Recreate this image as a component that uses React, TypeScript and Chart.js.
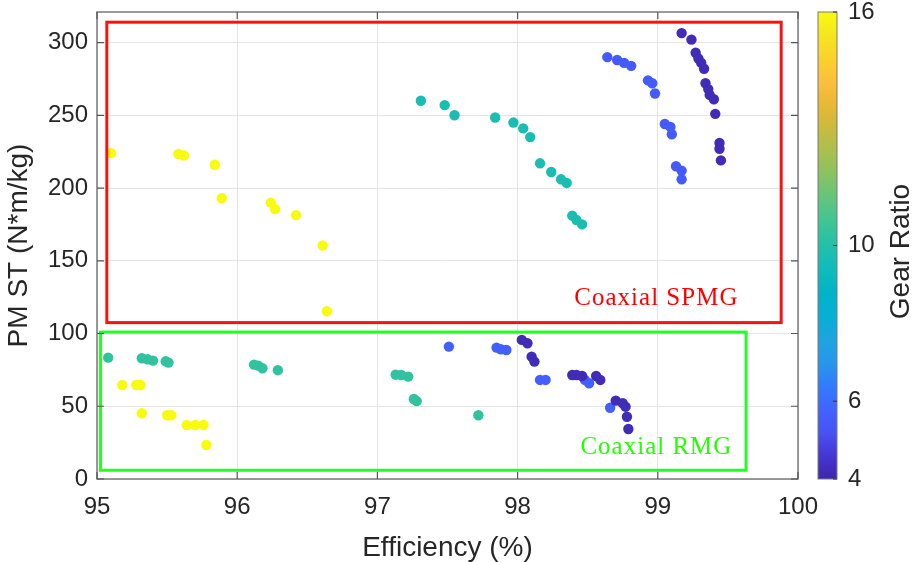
import React, { useEffect, useRef } from 'react';
import { Chart, registerables } from 'chart.js';

Chart.register(...registerables);

// ---- axis settings ----
const xRange = [95, 100];
const yRange = [0, 321];
const yTickValues = [0, 50, 100, 150, 200, 250, 300];
const gearRange = [4, 16];
const gearTickValues = [4, 6, 10, 16];

// ---- Coaxial SPMG data ----
const spmgG16X = [95.10, 95.58, 95.62, 95.84, 95.89, 96.24, 96.27, 96.42, 96.61, 96.64];
const spmgG16Y = [224, 223.5, 222.4, 216, 193, 190, 185.5, 181.4, 160.5, 115.3];
const spmgG16Gear = 16;

const spmgG10X = [97.31, 97.48, 97.55, 97.84, 97.97, 98.04, 98.09, 98.16, 98.24, 98.31, 98.35, 98.39, 98.42, 98.46];
const spmgG10Y = [260, 257, 250, 248.5, 245, 241, 235, 217, 211, 206, 203.5, 181, 178, 175];
const spmgG10Gear = 9.7;

const spmgG6X = [98.64, 98.71, 98.76, 98.81, 98.93, 98.96, 98.98, 99.05, 99.09, 99.10, 99.13, 99.17, 99.17];
const spmgG6Y = [290, 288, 286, 284, 274, 272, 265, 244, 242, 237, 215, 212, 206];
const spmgG6Gear = 5.5;

const spmgG4X = [99.17, 99.24, 99.27, 99.29, 99.31, 99.33, 99.34, 99.36, 99.37, 99.40, 99.41, 99.44, 99.44, 99.45];
const spmgG4Y = [306.5, 302, 293, 289, 286, 282, 272, 268, 264, 261, 251, 231, 227, 219];
const spmgG4Gear = 4.2;

// ---- Coaxial RMG data ----
const rmgG16X = [95.18, 95.28, 95.31, 95.32, 95.50, 95.53, 95.64, 95.70, 95.76, 95.78];
const rmgG16Y = [64.6, 64.6, 64.6, 45.2, 43.8, 43.8, 37.1, 37.1, 37.1, 23.4];
const rmgG16Gear = 16;

const rmgG10X = [95.08, 95.32, 95.36, 95.40, 95.49, 95.51, 96.12, 96.15, 96.18, 96.29, 97.13, 97.17, 97.22, 97.26, 97.28, 97.72];
const rmgG10Y = [83.4, 83, 82.3, 81.4, 80.9, 80, 78.6, 77.9, 76.1, 74.8, 71.7, 71.5, 70.4, 55, 53.5, 43.8];
const rmgG10Gear = 10.3;

const rmgG6X = [97.51, 97.85, 97.88, 97.92, 98.16, 98.20, 98.48, 98.51, 98.66];
const rmgG6Y = [91, 90.3, 89.2, 88.7, 68.1, 68.1, 68.1, 65.8, 49];
const rmgG6Gear = 5.7;

const rmgG4X = [98.03, 98.07, 98.10, 98.12, 98.39, 98.42, 98.46, 98.56, 98.59, 98.70, 98.75, 98.77, 98.78, 98.79];
const rmgG4Y = [95.6, 93.3, 84.1, 80.7, 71.5, 71.5, 70.8, 70.8, 68.1, 53.9, 52.1, 49.7, 42.8, 34.4];
const rmgG4Gear = 4.2;

// ---- annotation boxes (data units: x0, x1, y0, y1) ----
const spmgBox = [95.07, 99.88, 107.5, 314];
const rmgBox = [95.025, 99.63, 6, 101];
const spmgLabel = { text: 'Coaxial SPMG', x: 98.99, y: 124 };
const rmgLabel = { text: 'Coaxial RMG', x: 98.99, y: 22 };

// parula colormap stops
const parulaStops: [number, number, number][] = [
  [0.2422, 0.1504, 0.6603],
  [0.2706, 0.2136, 0.8348],
  [0.2810, 0.3228, 0.9579],
  [0.2586, 0.3888, 0.9962],
  [0.1959, 0.4853, 0.9875],
  [0.1540, 0.5902, 0.9218],
  [0.1163, 0.6444, 0.8715],
  [0.0265, 0.6870, 0.8340],
  [0.0000, 0.7060, 0.7850],
  [0.0617, 0.7334, 0.7311],
  [0.1356, 0.7522, 0.6628],
  [0.2464, 0.7676, 0.5857],
  [0.3833, 0.7732, 0.4886],
  [0.5301, 0.7624, 0.3935],
  [0.6640, 0.7501, 0.3140],
  [0.7856, 0.7318, 0.2451],
  [0.9017, 0.7233, 0.2137],
  [0.9938, 0.7455, 0.2403],
  [0.9851, 0.8179, 0.1735],
  [0.9598, 0.8991, 0.1212],
  [0.9763, 0.9831, 0.0538],
];

function parula(t: number): string {
  const tt = Math.max(0, Math.min(1, t));
  const n = parulaStops.length - 1;
  const f = tt * n;
  const i = Math.min(n - 1, Math.floor(f));
  const r = f - i;
  const a = parulaStops[i];
  const b = parulaStops[i + 1];
  const c = [0, 1, 2].map((k) => Math.round((a[k] + (b[k] - a[k]) * r) * 255));
  return `rgb(${c[0]},${c[1]},${c[2]})`;
}
function gearColor(g: number): string {
  return parula((g - gearRange[0]) / (gearRange[1] - gearRange[0]));
}

const SANS = "'Liberation Sans', Arial, Helvetica, sans-serif";
const SERIF = "'Liberation Serif', 'Times New Roman', serif";
const TEXT = '#262626';
const TICK_SIZE = 24;
const TITLE_SIZE = 28;

function mk(xs: number[], ys: number[], gear: number) {
  return {
    data: xs.map((x, i) => ({ x, y: ys[i] })),
    backgroundColor: gearColor(gear),
    borderWidth: 0,
    pointRadius: 5.2,
    pointHoverRadius: 5.2,
  };
}

const noPad = (s: any) => {
  s.paddingTop = 0;
  s.paddingBottom = 0;
};

const overlayPlugin = {
  id: 'overlay',
  afterDatasetsDraw(chart: any) {
    const { ctx, chartArea: a, scales } = chart;
    const xs = scales.x;
    const ys = scales.y;
    const cb = scales.cb;
    ctx.save();
    // boxes
    const drawBox = (b: number[], color: string) => {
      const x0 = xs.getPixelForValue(b[0]);
      const x1 = xs.getPixelForValue(b[1]);
      const y0 = ys.getPixelForValue(b[2]);
      const y1 = ys.getPixelForValue(b[3]);
      ctx.strokeStyle = color;
      ctx.lineWidth = 3;
      ctx.strokeRect(x0, y1, x1 - x0, y0 - y1);
    };
    drawBox(spmgBox, '#ff1010');
    drawBox(rmgBox, '#22ff22');
    // labels
    ctx.font = `25px ${SERIF}`;
    ctx.textAlign = 'center';
    ctx.textBaseline = 'middle';
    try { (ctx as any).letterSpacing = '1px'; } catch (e) {}
    ctx.fillStyle = '#ff0000';
    ctx.fillText(spmgLabel.text, xs.getPixelForValue(spmgLabel.x), ys.getPixelForValue(spmgLabel.y));
    ctx.fillStyle = '#22ff00';
    ctx.fillText(rmgLabel.text, xs.getPixelForValue(rmgLabel.x), ys.getPixelForValue(rmgLabel.y));
    try { (ctx as any).letterSpacing = '0px'; } catch (e) {}

    // axes box + inward ticks
    ctx.strokeStyle = '#7a7a7a';
    ctx.lineWidth = 1.5;
    ctx.strokeRect(a.left, a.top, a.right - a.left, a.bottom - a.top);
    const tl = 7;
    ctx.strokeStyle = '#555';
    ctx.lineWidth = 1.2;
    ctx.beginPath();
    xs.ticks.forEach((t: any) => {
      const px = xs.getPixelForValue(t.value);
      ctx.moveTo(px, a.bottom); ctx.lineTo(px, a.bottom - tl);
      ctx.moveTo(px, a.top); ctx.lineTo(px, a.top + tl);
    });
    ys.ticks.forEach((t: any) => {
      const py = ys.getPixelForValue(t.value);
      ctx.moveTo(a.left, py); ctx.lineTo(a.left + tl, py);
      ctx.moveTo(a.right, py); ctx.lineTo(a.right - tl, py);
    });
    ctx.stroke();

    // colorbar
    const bx = a.right + 20;
    const bw = 19;
    const yb = cb.getPixelForValue(gearRange[0]);
    const yt = cb.getPixelForValue(gearRange[1]);
    const grad = ctx.createLinearGradient(0, yb, 0, yt);
    parulaStops.forEach((_, i) => grad.addColorStop(i / (parulaStops.length - 1), parula(i / (parulaStops.length - 1))));
    ctx.fillStyle = grad;
    ctx.fillRect(bx, yt, bw, yb - yt);
    ctx.strokeStyle = '#7a7a7a';
    ctx.lineWidth = 1;
    ctx.strokeRect(bx, yt, bw, yb - yt);
    ctx.strokeStyle = '#333';
    ctx.beginPath();
    cb.ticks.forEach((t: any) => {
      const py = cb.getPixelForValue(t.value);
      ctx.moveTo(bx + bw, py); ctx.lineTo(bx + bw - 4, py);
    });
    ctx.stroke();
    // colorbar title
    ctx.save();
    ctx.translate(bx + 83, (a.top + a.bottom) / 2 + 6);
    ctx.rotate(-Math.PI / 2);
    ctx.font = `${TITLE_SIZE}px ${SANS}`;
    ctx.fillStyle = TEXT;
    ctx.textAlign = 'center';
    ctx.textBaseline = 'middle';
    ctx.fillText('Gear Ratio', 0, 0);
    ctx.restore();
    ctx.restore();
  },
};

export default function App() {
  const ref = useRef<HTMLCanvasElement | null>(null);
  useEffect(() => {
    document.body.style.margin = '0';
    const canvas = ref.current;
    if (!canvas) return;
    const chart = new Chart(canvas, {
      type: 'scatter',
      data: {
        datasets: [
          mk(spmgG16X, spmgG16Y, spmgG16Gear),
          mk(spmgG10X, spmgG10Y, spmgG10Gear),
          mk(spmgG6X, spmgG6Y, spmgG6Gear),
          mk(spmgG4X, spmgG4Y, spmgG4Gear),
          mk(rmgG16X, rmgG16Y, rmgG16Gear),
          mk(rmgG10X, rmgG10Y, rmgG10Gear),
          mk(rmgG4X, rmgG4Y, rmgG4Gear),
          mk(rmgG6X, rmgG6Y, rmgG6Gear),
        ] as any,
      },
      options: {
        animation: false,
        responsive: false,
        devicePixelRatio: 1,
        layout: { padding: { top: 12, left: 0, right: 0, bottom: 0 } },
        plugins: { legend: { display: false }, tooltip: { enabled: false } },
        scales: {
          x: {
            type: 'linear',
            min: xRange[0],
            max: xRange[1],
            ticks: { stepSize: 1, font: { family: SANS, size: TICK_SIZE }, color: TEXT, padding: 14 },
            grid: { color: '#e4e4e4', drawTicks: false },
            border: { display: false },
            title: { display: true, text: 'Efficiency (%)', font: { family: SANS, size: TITLE_SIZE, lineHeight: 1.0 }, color: TEXT, padding: 0 },
            afterFit: (s: any) => { s.height = 83; s.paddingLeft = 0; s.paddingRight = 0; },
          },
          y: {
            type: 'linear',
            min: yRange[0],
            max: yRange[1],
            afterBuildTicks: (s: any) => { s.ticks = yTickValues.map((v) => ({ value: v })); },
            ticks: { font: { family: SANS, size: TICK_SIZE }, color: TEXT, padding: 9 },
            grid: { color: '#e4e4e4', drawTicks: false },
            border: { display: false },
            title: { display: true, text: 'PM ST (N*m/kg)', font: { family: SANS, size: TITLE_SIZE }, color: TEXT, padding: { top: 2, bottom: 0 } },
            afterFit: (s: any) => { s.width = 97; noPad(s); },
          },
          cb: {
            type: 'linear',
            axis: 'y',
            position: 'right',
            min: gearRange[0],
            max: gearRange[1],
            afterBuildTicks: (s: any) => { s.ticks = gearTickValues.map((v) => ({ value: v })); },
            ticks: { font: { family: SANS, size: TICK_SIZE }, color: TEXT, padding: 4 },
            grid: { drawOnChartArea: false, color: 'rgba(0,0,0,0)', tickLength: 46 },
            border: { display: false },
            afterFit: (s: any) => { s.width = 117; noPad(s); },
          },
        },
      } as any,
      plugins: [overlayPlugin],
    });
    return () => chart.destroy();
  }, []);
  return (
    <div style={{ width: 915, height: 562, position: 'relative', background: '#fff' }}>
      <canvas ref={ref} width={915} height={562} style={{ display: 'block', width: 915, height: 562 }} />
    </div>
  );
}
